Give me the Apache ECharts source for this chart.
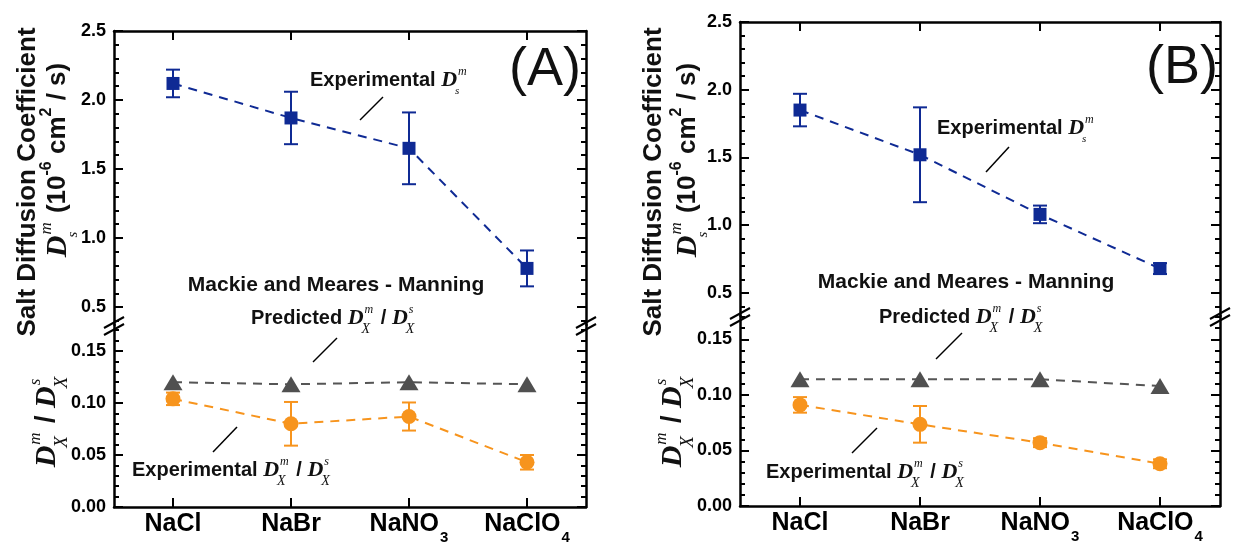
<!DOCTYPE html>
<html>
<head>
<meta charset="utf-8">
<script src="https://cdn.jsdelivr.net/npm/echarts@6/dist/echarts.min.js"></script>
<style>html,body{margin:0;padding:0;background:#fff}#c{width:1243px;height:544px}</style>
</head>
<body>
<div id="c"></div>
<script>
// ---------- data ----------
const categories = ['NaCl', 'NaBr', 'NaNO3', 'NaClO4'];
// Panel A
const dsA = [2.12, 1.87, 1.65, 0.78];
const dsErrA = [0.10, 0.19, 0.26, 0.13];
const predA = [0.120, 0.118, 0.120, 0.118];
const expA = [0.104, 0.080, 0.087, 0.043];
const expErrA = [0.006, 0.021, 0.0135, 0.007];
// Panel B
const dsB = [1.85, 1.52, 1.08, 0.68];
const dsErrB = [0.12, 0.35, 0.065, 0.04];
const predB = [0.114, 0.114, 0.114, 0.108];
const expB = [0.091, 0.0735, 0.057, 0.038];
const expErrB = [0.007, 0.0165, 0.004, 0.004];
// tick labels
const topMajorTicks = [0.5, 1.0, 1.5, 2.0, 2.5];
const topMinorTicks = [0.4, 0.6, 0.7, 0.8, 0.9, 1.1, 1.2, 1.3, 1.4, 1.6, 1.7, 1.8, 1.9, 2.1, 2.2, 2.3, 2.4];
const botMajorTicks = [0.00, 0.05, 0.10, 0.15];
const botMinorTicks = [0.01, 0.02, 0.03, 0.04, 0.06, 0.07, 0.08, 0.09, 0.11, 0.12, 0.13, 0.14, 0.16, 0.17];

// ---------- style ----------
const SANS = '"Liberation Sans", Arial, sans-serif';
const SERIF = '"Liberation Serif", "Times New Roman", serif';
const BLUE = '#0f2a94';
const ORANGE = '#f7941d';
const GREY = '#505050';
const BLACK = '#000';

const panels = [
  { left: 114, right: 586, top: 31, brk: 325, bottom: 507, topMin: 0.37, botMax: 0.175,
    ds: dsA, dsErr: dsErrA, pred: predA, exp: expA, expErr: expErrA },
  { left: 740, right: 1220, top: 22, brk: 316, bottom: 506, topMin: 0.33, botMax: 0.171,
    ds: dsB, dsErr: dsErrB, pred: predB, exp: expB, expErr: expErrB }
];

const grids = [], xAxes = [], yAxes = [], series = [];

function yAx(gi, min, max, pos, ticks, len, showLine, labels, digits) {
  return {
    type: 'value', gridIndex: gi, min, max, position: pos,
    axisLine: { show: showLine, onZero: false, lineStyle: { color: BLACK, width: 2.5 } },
    axisTick: { show: true, inside: true, length: len, customValues: ticks, lineStyle: { color: BLACK, width: 2 } },
    axisLabel: labels ? { show: true, customValues: ticks, margin: 8, color: BLACK, fontFamily: SANS,
      fontWeight: 'bold', fontSize: 18, formatter: v => Number(v).toFixed(digits) } : { show: false },
    splitLine: { show: false }
  };
}

function errSeries(xi, yi, vals, errs, color) {
  return {
    type: 'custom', xAxisIndex: xi, yAxisIndex: yi, z: 2, silent: true,
    data: vals.map((v, i) => [i, v - errs[i], v + errs[i]]),
    renderItem: (params, api) => {
      const lo = api.coord([api.value(0), api.value(1)]);
      const hi = api.coord([api.value(0), api.value(2)]);
      const w = 7;
      const st = { stroke: color, lineWidth: 2 };
      return { type: 'group', children: [
        { type: 'line', shape: { x1: lo[0], y1: lo[1], x2: hi[0], y2: hi[1] }, style: st },
        { type: 'line', shape: { x1: lo[0] - w, y1: lo[1], x2: lo[0] + w, y2: lo[1] }, style: st },
        { type: 'line', shape: { x1: hi[0] - w, y1: hi[1], x2: hi[0] + w, y2: hi[1] }, style: st }
      ] };
    }
  };
}

panels.forEach((p, k) => {
  const gTop = 2 * k, gBot = 2 * k + 1;
  grids.push({ left: p.left, width: p.right - p.left, top: p.top, height: p.brk - p.top,
    containLabel: false, outerBoundsMode: 'none' });
  grids.push({ left: p.left, width: p.right - p.left, top: p.brk, height: p.bottom - p.brk,
    containLabel: false, outerBoundsMode: 'none' });
  xAxes.push({
    type: 'category', gridIndex: gTop, data: categories, position: 'top', boundaryGap: true,
    axisLine: { show: true, onZero: false, lineStyle: { color: BLACK, width: 2.5 } },
    axisTick: { show: true, inside: true, alignWithLabel: true, interval: 0, length: 9, lineStyle: { color: BLACK, width: 2 } },
    axisLabel: { show: false, interval: 0 }, splitLine: { show: false }
  });
  xAxes.push({
    type: 'category', gridIndex: gBot, data: categories, position: 'bottom', boundaryGap: true,
    axisLine: { show: true, onZero: false, lineStyle: { color: BLACK, width: 2.5 } },
    axisTick: { show: true, inside: true, alignWithLabel: true, interval: 0, length: 9, lineStyle: { color: BLACK, width: 2 } },
    axisLabel: {
      show: true, interval: 0, margin: 5, color: BLACK, fontFamily: SANS, fontWeight: 'bold', fontSize: 25,
      formatter: v => v === 'NaNO3' ? '{m|NaNO}{s|3}' : (v === 'NaClO4' ? '{m|NaClO}{s|4}' : '{m|' + v + '}'),
      rich: {
        m: { fontSize: 25, fontWeight: 'bold', fontFamily: SANS, color: BLACK, lineHeight: 28, verticalAlign: 'top' },
        s: { fontSize: 15, fontWeight: 'bold', fontFamily: SANS, color: BLACK, lineHeight: 15,
          verticalAlign: 'top', padding: [18, 0, 0, 1] }
      }
    },
    splitLine: { show: false }
  });
  // top grid y axes
  yAxes.push(yAx(gTop, p.topMin, 2.5, 'left', topMajorTicks, 9, true, true, 1));
  yAxes.push(yAx(gTop, p.topMin, 2.5, 'left', topMinorTicks, 5, false, false));
  yAxes.push(yAx(gTop, p.topMin, 2.5, 'right', topMajorTicks, 9, true, false));
  yAxes.push(yAx(gTop, p.topMin, 2.5, 'right', topMinorTicks, 5, false, false));
  // bottom grid y axes
  yAxes.push(yAx(gBot, 0, p.botMax, 'left', botMajorTicks, 9, true, true, 2));
  yAxes.push(yAx(gBot, 0, p.botMax, 'left', botMinorTicks, 5, false, false));
  yAxes.push(yAx(gBot, 0, p.botMax, 'right', botMajorTicks, 9, true, false));
  yAxes.push(yAx(gBot, 0, p.botMax, 'right', botMinorTicks, 5, false, false));
  const yTop = 8 * k, yBot = 8 * k + 4;

  series.push(errSeries(gTop, yTop, p.ds, p.dsErr, BLUE));
  series.push({
    type: 'line', xAxisIndex: gTop, yAxisIndex: yTop, data: p.ds, z: 3,
    symbol: 'rect', symbolSize: 13, itemStyle: { color: BLUE },
    lineStyle: { color: BLUE, width: 2, type: [9, 7] }
  });
  series.push({
    type: 'line', xAxisIndex: gBot, yAxisIndex: yBot, data: p.pred, z: 3,
    symbol: 'triangle', symbolSize: [19, 16], itemStyle: { color: GREY },
    lineStyle: { color: '#555', width: 2, type: [9, 7] }
  });
  series.push(errSeries(gBot, yBot, p.exp, p.expErr, ORANGE));
  series.push({
    type: 'line', xAxisIndex: gBot, yAxisIndex: yBot, data: p.exp, z: 3,
    symbol: 'circle', symbolSize: 15, itemStyle: { color: ORANGE },
    lineStyle: { color: ORANGE, width: 2, type: [9, 7] }
  });
});

// ---------- math-style text helpers ----------
const mctx = document.createElement('canvas').getContext('2d');
function measure(t, font) { mctx.font = font; return mctx.measureText(t).width; }
function txt(t, font, x, y) {
  return { type: 'text', x, y, z: 100, style: { text: t, font, fill: '#111',
    textAlign: 'left', textVerticalAlign: 'middle', align: 'left', verticalAlign: 'middle' } };
}
function mathGroup(parts, x, y, rotation, anchor) {
  let cx = 0; const ch = [];
  parts.forEach(p => {
    if (p.stack) {
      let w = 0;
      p.stack.forEach(s => {
        if (!s) return;
        w = Math.max(w, measure(s.t, s.font) + (s.dx || 0));
        ch.push(txt(s.t, s.font, cx + (s.dx || 0), s.dy));
      });
      cx += w + 2;
    } else {
      ch.push(txt(p.t, p.font, cx, p.dy || 0));
      cx += measure(p.t, p.font);
    }
  });
  const off = anchor === 'middle' ? -cx / 2 : 0;
  ch.forEach(c => { c.x += off; });
  return { type: 'group', x, y, rotation: rotation || 0, z: 100, children: ch };
}
function F(size, style) { return (style || 'bold') + ' ' + size + 'px ' + SANS; }
function I(size, bold) { return 'italic ' + (bold ? 'bold ' : '') + size + 'px ' + SERIF; }
function Dsm(sz) {
  return [{ t: 'D', font: I(sz, true) },
    { stack: [{ t: 'm', font: I(Math.round(sz * 0.55)), dy: -sz * 0.38, dx: 1 },
              { t: 's', font: I(Math.round(sz * 0.5)), dy: sz * 0.5, dx: -2 }] }];
}
function DX(sz, sup) {
  return [{ t: 'D', font: I(sz, true) },
    { stack: [{ t: sup, font: I(Math.round(sz * 0.55)), dy: -sz * 0.38, dx: 1 },
              { t: 'X', font: I(Math.round(sz * 0.62)), dy: sz * 0.5, dx: -2 }] }];
}

const R = Math.PI / 2;
const graphics = [];
const titleParts1 = [{ t: 'Salt Diffusion Coefficient', font: F(26) }];
const titleParts2 = [...Dsm(30), { t: ' (10', font: F(26) }, { t: '-6', font: F(16), dy: -11 },
  { t: ' cm', font: F(26) }, { t: '2', font: F(16), dy: -11 }, { t: ' / s)', font: F(26) }];
const titleParts3 = [...DX(30, 'm'), { t: ' / ', font: F(27) }, ...DX(30, 's')];

// panel A titles
graphics.push(mathGroup(titleParts1, 28, 182, R, 'middle'));
graphics.push(mathGroup(titleParts2, 58, 160, R, 'middle'));
graphics.push(mathGroup(titleParts3, 47, 421, R, 'middle'));
// panel B titles
graphics.push(mathGroup(titleParts1, 654, 182, R, 'middle'));
graphics.push(mathGroup(titleParts2, 688, 160, R, 'middle'));
graphics.push(mathGroup(titleParts3, 673, 421, R, 'middle'));

// annotations
function annots(o) {
  graphics.push(mathGroup([{ t: o.lab, font: '54px ' + SANS }], o.labX, o.labY, 0, 'middle'));
  graphics.push(mathGroup([{ t: 'Experimental ', font: F(20) }, ...Dsm(22)], o.e1[0], o.e1[1]));
  graphics.push(mathGroup([{ t: 'Mackie and Meares - Manning', font: F(21) }], o.mm[0], o.mm[1], 0, 'middle'));
  graphics.push(mathGroup([{ t: 'Predicted ', font: F(20) }, ...DX(22, 'm'), { t: ' / ', font: F(20) }, ...DX(22, 's')], o.pr[0], o.pr[1]));
  graphics.push(mathGroup([{ t: 'Experimental ', font: F(20) }, ...DX(22, 'm'), { t: ' / ', font: F(20) }, ...DX(22, 's')], o.e2[0], o.e2[1]));
  o.lines.forEach(l => graphics.push({ type: 'line', z: 100,
    shape: { x1: l[0], y1: l[1], x2: l[2], y2: l[3] }, style: { stroke: '#000', lineWidth: 1.5 } }));
}
annots({ lab: '(A)', labX: 545, labY: 70, e1: [310, 80], mm: [336, 285], pr: [251, 318], e2: [132, 470],
  lines: [[383, 97, 360, 120], [337, 338, 313, 362], [237, 427, 213, 452]] });
annots({ lab: '(B)', labX: 1182, labY: 68, e1: [937, 128], mm: [966, 282], pr: [879, 317], e2: [766, 472],
  lines: [[1009, 147, 986, 172], [962, 333, 936, 359], [877, 428, 852, 453]] });

// axis break marks
function brk(x, y) {
  graphics.push({ type: 'group', x, y, z: 110, children: [
    { type: 'polygon', shape: { points: [[-10, 3], [10, -8], [10, -1], [-10, 10]] }, style: { fill: '#fff' } },
    { type: 'line', shape: { x1: -10, y1: 3, x2: 10, y2: -8 }, style: { stroke: '#000', lineWidth: 2 } },
    { type: 'line', shape: { x1: -10, y1: 10, x2: 10, y2: -1 }, style: { stroke: '#000', lineWidth: 2 } }
  ] });
}
panels.forEach(p => { brk(p.left, p.brk); brk(p.right, p.brk); });

const chart = echarts.init(document.getElementById('c'), null, { renderer: 'canvas' });
chart.setOption({
  animation: false,
  backgroundColor: '#fff',
  grid: grids, xAxis: xAxes, yAxis: yAxes, series,
  graphic: { elements: graphics }
});
</script>
</body>
</html>
